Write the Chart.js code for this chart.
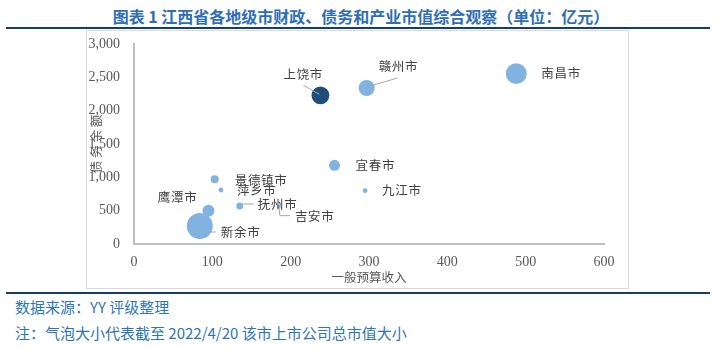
<!DOCTYPE html>
<html>
<head>
<meta charset="utf-8">
<script src="https://cdn.jsdelivr.net/npm/chart.js@4/dist/chart.umd.min.js"></script>
<style>
  html, body { margin: 0; padding: 0; background: #fff; }
  body { width: 722px; height: 349px; position: relative; overflow: hidden; font-family: "Noto Sans CJK SC", "Noto Sans", sans-serif; }
  #title { position: absolute; left: 0; width: 722px; top: 5px; text-align: center; font-size: 16px; font-weight: bold; color: #2F6EB5; line-height: 22px; white-space: nowrap; }
  .rule { position: absolute; left: 6px; width: 704px; height: 2px; background: #153E64; }
  #box { position: absolute; left: 86px; top: 30px; width: 543px; height: 259px; box-sizing: border-box; border: 1.5px solid #D9D9D9; }
  #c { position: absolute; left: 86px; top: 30px; }
  .note { position: absolute; left: 15px; font-size: 15px; color: #2E75B6; line-height: 20px; white-space: nowrap; }
</style>
</head>
<body>
<div id="title">图表 1 江西省各地级市财政、债务和产业市值综合观察（单位：亿元）</div>
<div class="rule" style="top:27px"></div>
<div id="box"></div>
<canvas id="c" width="542" height="258"></canvas>
<div class="rule" style="top:292px"></div>
<div class="note" style="top:297px">数据来源：YY 评级整理</div>
<div class="note" style="top:323px">注：气泡大小代表截至 2022/4/20 该市上市公司总市值大小</div>
<script>
// ---- data ----
const cities = ["南昌市", "赣州市", "上饶市", "宜春市", "九江市", "景德镇市", "萍乡市", "抚州市", "吉安市", "鹰潭市", "新余市"];
const revenue = [488, 297, 238, 256, 295, 103, 111, 135, 185, 95, 84];        // 一般预算收入
const debt = [2555, 2340, 2230, 1180, 800, 970, 810, 570, 560, 500, 270];       // 债务余额
const marketCap = [1100, 650, 800, 300, 60, 160, 60, 120, 40, 360, 1700];      // 上市公司总市值 (bubble size)
const xTicks = [0, 100, 200, 300, 400, 500, 600];
const yTicks = [0, 500, 1000, 1500, 2000, 2500, 3000];
const highlight = "上饶市";

// ---- presentation ----
const MAX_R = 13;
const maxCap = Math.max(...marketCap);
const lightBlue = "#80B3E1";
const darkBlue = "#1F4E79";

// label placement: text anchor offset (dx, dy, align) and optional leader polyline
const labelLayout = {
  "南昌市": { dx: 25, dy: 0, align: "left" },
  "赣州市": { dx: 12, dy: -22, align: "left", leader: [[0, -1], [31, -10]] },
  "上饶市": { dx: -37, dy: -21, align: "left", leader: [[-1, -1], [-17, -10]] },
  "宜春市": { dx: 21, dy: 0, align: "left" },
  "九江市": { dx: 17, dy: 0, align: "left" },
  "景德镇市": { dx: 20, dy: 1, align: "left" },
  "萍乡市": { dx: 16, dy: 0, align: "left" },
  "抚州市": { dx: 18, dy: -2, align: "left", leader: [[3, -2], [14, -2]] },
  "吉安市": { dx: 16, dy: 10, align: "left", leader: [[0, 1], [1, 9], [11, 9]] },
  "鹰潭市": { dx: -11, dy: -13, align: "right" },
  "新余市": { dx: 21, dy: 6, align: "left", leader: [[1, 0], [8, 6], [16, 6]] }
};

const points = cities.map((c, i) => ({ x: revenue[i], y: debt[i], r: MAX_R * Math.sqrt(marketCap[i] / maxCap) }));
const colors = cities.map(c => c === highlight ? darkBlue : lightBlue);

const labelPlugin = {
  id: "cityLabels",
  afterDatasetsDraw(chart) {
    const ctx = chart.ctx;
    const meta = chart.getDatasetMeta(0);
    ctx.save();
    ctx.font = '12.5px "Noto Sans CJK SC", sans-serif';
    ctx.fillStyle = "#404040";
    ctx.textBaseline = "middle";
    meta.data.forEach((el, i) => {
      const lay = labelLayout[cities[i]];
      if (!lay) return;
      if (lay.leader) {
        ctx.beginPath();
        ctx.strokeStyle = "#A6A6A6";
        ctx.lineWidth = 1;
        lay.leader.forEach((p, k) => {
          const px = el.x + p[0], py = el.y + p[1];
          if (k === 0) ctx.moveTo(px, py); else ctx.lineTo(px, py);
        });
        ctx.stroke();
      }
      const txt = cities[i];
      const chars = Array.from(txt);
      const step = 13.2;
      const total = step * chars.length;
      let x0 = lay.align === "right" ? el.x + lay.dx - total : el.x + lay.dx;
      ctx.textAlign = "left";
      chars.forEach((ch, k) => ctx.fillText(ch, x0 + k * step, el.y + lay.dy));
    });
    ctx.restore();
  }
};

new Chart(document.getElementById("c"), {
  type: "bubble",
  data: {
    datasets: [{
      label: "一般预算收入 / 债务余额",
      data: points,
      backgroundColor: colors,
      borderWidth: 0,
      hoverBorderWidth: 0
    }]
  },
  options: {
    responsive: false,
    animation: false,
    devicePixelRatio: 1,
    events: [],
    layout: { padding: { top: 14, right: 24, left: 0, bottom: 0 } },
    plugins: { legend: { display: false }, tooltip: { enabled: false } },
    scales: {
      x: {
        type: "linear",
        min: xTicks[0],
        max: xTicks[xTicks.length - 1],
        afterFit(s) { s.height = 44; s.paddingLeft = 0; s.paddingRight = 0; },
        afterBuildTicks(s) { s.ticks = xTicks.map(v => ({ value: v })); },
        grid: { display: true, drawOnChartArea: false, drawTicks: false, color: "rgba(0,0,0,0)" },
        border: { display: true, color: "#BFBFBF", width: 2 },
        ticks: { padding: 10, color: "#595959", font: { family: '"Liberation Serif", serif', size: 14 }, maxRotation: 0 },
        title: { display: true, text: "一般预算收入", color: "#595959", padding: { top: 2, bottom: 3 }, font: { family: '"Noto Sans CJK SC", sans-serif', size: 12.5 } }
      },
      y: {
        type: "linear",
        min: yTicks[0],
        max: yTicks[yTicks.length - 1],
        afterFit(s) { s.width = 48; s.paddingTop = 0; s.paddingBottom = 0; },
        afterBuildTicks(s) { s.ticks = yTicks.map(v => ({ value: v })); },
        grid: { display: true, drawOnChartArea: false, drawTicks: false, color: "rgba(0,0,0,0)" },
        border: { display: true, color: "#BFBFBF", width: 2 },
        ticks: { padding: 14, color: "#595959", font: { family: '"Liberation Serif", serif', size: 14 },
                 callback: v => v.toLocaleString("en-US") },
        title: { display: true, text: "债 务 余 额", color: "#595959", padding: { top: 3, bottom: 3 }, font: { family: '"Noto Sans CJK SC", sans-serif', size: 12.5 } }
      }
    }
  },
  plugins: [labelPlugin]
});
</script>
</body>
</html>
